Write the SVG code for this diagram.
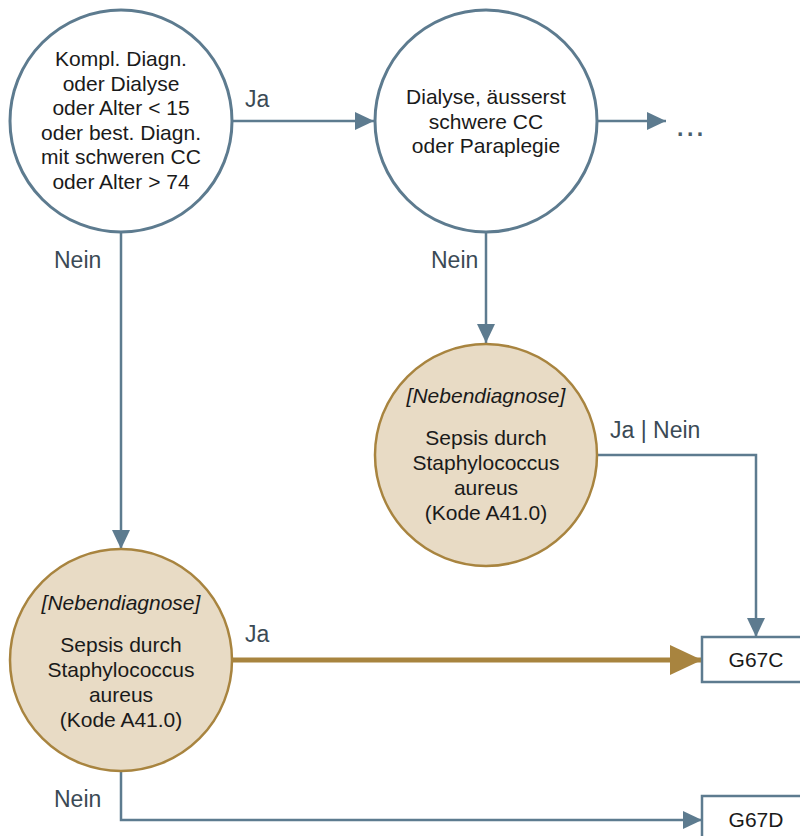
<svg xmlns="http://www.w3.org/2000/svg" width="800" height="836" viewBox="0 0 800 836">
<defs>
<style>
.txt{font-family:"Liberation Sans",Arial,sans-serif;font-size:21px;fill:#1a1a1a;text-anchor:middle}
.it{font-style:italic}
.lbl{font-family:"Liberation Sans",Arial,sans-serif;font-size:23px;fill:#3b4a55}
.q{fill:#ffffff;stroke:#5d7b8f;stroke-width:3}
.s{fill:#e8dbc5;stroke:#a8843f;stroke-width:2.5}
.box{fill:#ffffff;stroke:#5d7b8f;stroke-width:2.5}
.c{fill:none;stroke:#5d7b8f;stroke-width:2.5}
.ct{fill:none;stroke:#a8843f;stroke-width:5}
</style>
<marker id="ah" markerUnits="userSpaceOnUse" markerWidth="20" markerHeight="18" refX="19" refY="9" orient="auto">
<path d="M0,0 L19,9 L0,18 Z" fill="#5d7b8f"/>
</marker>
<marker id="aht" markerUnits="userSpaceOnUse" markerWidth="33" markerHeight="30" refX="32" refY="15" orient="auto">
<path d="M0,0 L32,15 L0,30 Z" fill="#a8843f"/>
</marker>
</defs>
<rect width="800" height="836" fill="#ffffff"/>
<g id="connectors">
<line class="c" x1="232" y1="121" x2="374" y2="121" marker-end="url(#ah)"/>
<line class="c" x1="597" y1="121" x2="666" y2="121" marker-end="url(#ah)"/>
<line class="c" x1="121" y1="232" x2="121" y2="549" marker-end="url(#ah)"/>
<line class="c" x1="486" y1="232" x2="486" y2="343" marker-end="url(#ah)"/>
<polyline class="c" points="597,455 756,455 756,637" marker-end="url(#ah)"/>
<line class="ct" x1="232" y1="660" x2="702" y2="660" marker-end="url(#aht)"/>
<polyline class="c" points="121,771 121,820 702,820" marker-end="url(#ah)"/>
<text class="lbl" x="245" y="107">Ja</text>
<text class="lbl" x="54" y="268">Nein</text>
<text class="lbl" x="431" y="268">Nein</text>
<text class="lbl" x="610" y="438">Ja | Nein</text>
<text class="lbl" x="245" y="642">Ja</text>
<text class="lbl" x="54" y="807">Nein</text>
<text class="lbl" x="677" y="136" style="font-weight:bold;letter-spacing:3.5px;fill:#4a5e6c">...</text>
</g>
<g id="n1">
<circle class="q" cx="121" cy="121" r="111"/>
<text class="txt" x="121" y="66">Kompl. Diagn.</text>
<text class="txt" x="121" y="90.5">oder Dialyse</text>
<text class="txt" x="121" y="115">oder Alter &lt; 15</text>
<text class="txt" x="121" y="139.5">oder best. Diagn.</text>
<text class="txt" x="121" y="164">mit schweren CC</text>
<text class="txt" x="121" y="188.5">oder Alter &gt; 74</text>
</g>
<g id="n2">
<circle class="q" cx="486" cy="121" r="111"/>
<text class="txt" x="486" y="104">Dialyse, äusserst</text>
<text class="txt" x="486" y="128.5">schwere CC</text>
<text class="txt" x="486" y="153">oder Paraplegie</text>
</g>
<g id="n3">
<circle class="s" cx="486" cy="455" r="111"/>
<text class="txt it" x="486" y="403">[Nebendiagnose]</text>
<text class="txt" x="486" y="445">Sepsis durch</text>
<text class="txt" x="486" y="470">Staphylococcus</text>
<text class="txt" x="486" y="495">aureus</text>
<text class="txt" x="486" y="520">(Kode A41.0)</text>
</g>
<g id="n4">
<circle class="s" cx="121" cy="660" r="111"/>
<text class="txt it" x="121" y="610">[Nebendiagnose]</text>
<text class="txt" x="121" y="652">Sepsis durch</text>
<text class="txt" x="121" y="677">Staphylococcus</text>
<text class="txt" x="121" y="702">aureus</text>
<text class="txt" x="121" y="727">(Kode A41.0)</text>
</g>
<g id="g67c">
<rect class="box" x="702" y="637" width="110" height="45"/>
<text class="txt" x="756" y="667">G67C</text>
</g>
<g id="g67d">
<rect class="box" x="702" y="796" width="110" height="60"/>
<text class="txt" x="756" y="827">G67D</text>
</g>
</svg>
